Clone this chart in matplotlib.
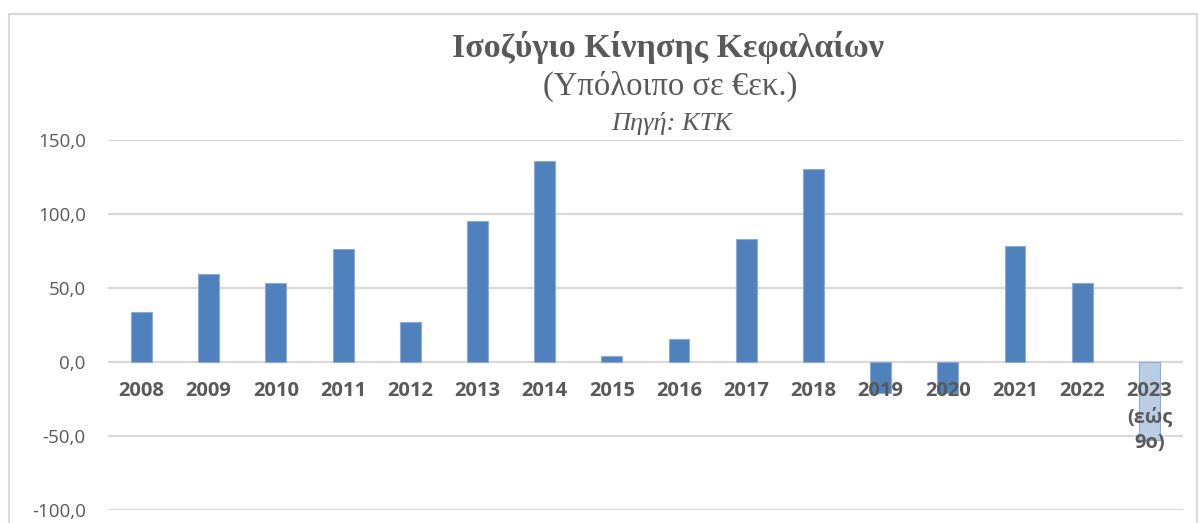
import matplotlib
matplotlib.use("Agg")
import matplotlib.pyplot as plt
from matplotlib.patches import Rectangle

# -------------------------------
# Data
# -------------------------------
years = ["2008", "2009", "2010", "2011", "2012", "2013", "2014", "2015",
         "2016", "2017", "2018", "2019", "2020", "2021", "2022", "2023\n(εώς\n9ο)"]
balance = [33.5, 59.5, 53.2, 76.1, 27.0, 95.3, 135.8, 4.0,
           15.5, 83.0, 130.4, -21.0, -21.0, 78.4, 53.4, -52.7]
yticks = [-100, -50, 0, 50, 100, 150]

bar_color = "#4F81BD"
partial_color = "#B9CDE5"
text_color = "#595959"
grid_color = "#D9D9D9"
sans = ["Open Sans", "DejaVu Sans"]
serif = ["Liberation Serif", "DejaVu Serif"]

# -------------------------------
# Figure
# -------------------------------
fig = plt.figure(figsize=(11.99, 5.23), dpi=100)
ax = fig.add_axes([0.090, 0.0249, 0.8967, 0.7074])

x = list(range(len(years)))
colors = [bar_color] * (len(years) - 1) + [partial_color]
ax.bar(x, balance, width=0.31, color=colors, edgecolor="#8EA9D3",
       linewidth=0.8, zorder=3)

ax.set_xlim(-0.5, len(years) - 0.5)
ax.set_ylim(-100, 150)
ax.set_yticks(yticks)
ax.set_yticklabels([f"{v:.1f}".replace(".", ",") for v in yticks],
                   fontsize=13.5, color=text_color, family=sans)
ax.tick_params(axis="y", length=0, pad=16)
ax.set_xticks([])
ax.grid(axis="y", color=grid_color, linewidth=1.6, zorder=0)
for s in ax.spines.values():
    s.set_visible(False)

# category labels sit just under the zero line, like Excel
for i, lab in enumerate(years):
    ax.annotate(lab, (i, 0), xytext=(0, -14), textcoords="offset points",
                ha="center", va="top", fontsize=14.5, fontweight="bold",
                color=text_color, family=sans, linespacing=1.4,
                zorder=4)

# -------------------------------
# Titles
# -------------------------------
fig.text(0.557, 0.910, "Ισοζύγιο Κίνησης Κεφαλαίων", ha="center", va="center",
         fontsize=24.5, fontweight="bold", color=text_color, family=serif)
fig.text(0.559, 0.835, "(Υπόλοιπο σε €εκ.)", ha="center", va="center",
         fontsize=23.5, color=text_color, family=serif)
fig.text(0.560, 0.763, "Πηγή: ΚΤΚ", ha="center", va="center",
         fontsize=19, style="italic", color=text_color, family=serif)

# outer chart border
fig.patches.append(Rectangle((9 / 1199, -0.05), 1188 / 1199, 1 - 14 / 523 + 0.05,
                             transform=fig.transFigure, fill=False,
                             edgecolor=grid_color, linewidth=1.5))

fig.savefig("out.png", dpi=100)
